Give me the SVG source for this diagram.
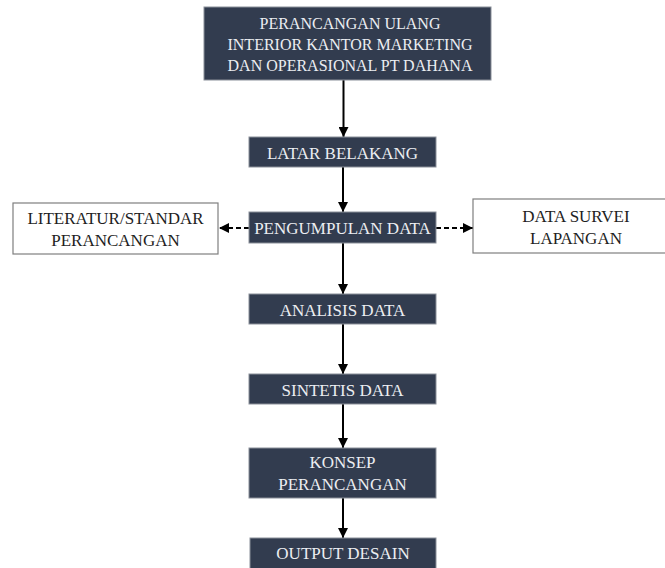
<svg xmlns="http://www.w3.org/2000/svg" width="665" height="568" viewBox="0 0 665 568">
<style>
.dark{fill:#323c4f;stroke:#8a8f99;stroke-width:1}
.light{fill:#ffffff;stroke:#7f7f7f;stroke-width:1.2}
.t{font-family:"Liberation Serif","Times New Roman",serif;font-size:17px;text-anchor:middle}
.s{font-size:16px}
.tw{fill:#eceef2}
.tb{fill:#1e1e1e}
.c{stroke:#000;stroke-width:2;fill:none}
.d{stroke-dasharray:5,3}
</style>
<defs>
<marker id="ah" viewBox="0 0 10 10" refX="10" refY="5" markerWidth="5" markerHeight="5" orient="auto" markerUnits="strokeWidth">
<path d="M0,0 L10,5 L0,10 z" fill="#000"/>
</marker>
</defs>
<rect width="665" height="568" fill="#fff"/>
<g id="connectors">
<line class="c" x1="343.5" y1="80" x2="343.5" y2="137" marker-end="url(#ah)"/>
<line class="c" x1="343" y1="167" x2="343" y2="212" marker-end="url(#ah)"/>
<line class="c" x1="343" y1="243" x2="343" y2="294" marker-end="url(#ah)"/>
<line class="c" x1="343" y1="324" x2="343" y2="374" marker-end="url(#ah)"/>
<line class="c" x1="343" y1="404" x2="343" y2="448" marker-end="url(#ah)"/>
<line class="c" x1="343" y1="498" x2="343" y2="538" marker-end="url(#ah)"/>
<line class="c d" x1="249" y1="228" x2="219" y2="228" marker-end="url(#ah)"/>
<line class="c d" x1="436" y1="228" x2="473" y2="228" marker-end="url(#ah)"/>
</g>
<g id="n1">
<rect class="dark" x="204" y="7" width="287" height="73"/>
<text class="t s tw" x="350" y="29">PERANCANGAN ULANG</text>
<text class="t s tw" x="350" y="50">INTERIOR KANTOR MARKETING</text>
<text class="t s tw" x="350" y="71">DAN OPERASIONAL PT DAHANA</text>
</g>
<g id="n2">
<rect class="dark" x="249" y="137" width="187" height="30"/>
<text class="t tw" x="342.5" y="158.5">LATAR BELAKANG</text>
</g>
<g id="n3">
<rect class="dark" x="249" y="212" width="187" height="31"/>
<text class="t tw" x="342.5" y="233.5">PENGUMPULAN DATA</text>
</g>
<g id="n4">
<rect class="light" x="13" y="203" width="205" height="51"/>
<text class="t tb" x="115.5" y="224">LITERATUR/STANDAR</text>
<text class="t tb" x="115.5" y="246">PERANCANGAN</text>
</g>
<g id="n5">
<rect class="light" x="473" y="199" width="200" height="54"/>
<text class="t tb" x="576" y="222">DATA SURVEI</text>
<text class="t tb" x="576" y="244">LAPANGAN</text>
</g>
<g id="n6">
<rect class="dark" x="249" y="294" width="187" height="30"/>
<text class="t tw" x="342.5" y="315.5">ANALISIS DATA</text>
</g>
<g id="n7">
<rect class="dark" x="249" y="374" width="187" height="30"/>
<text class="t tw" x="342.5" y="395.5">SINTETIS DATA</text>
</g>
<g id="n8">
<rect class="dark" x="249" y="448" width="187" height="50"/>
<text class="t tw" x="342.5" y="468">KONSEP</text>
<text class="t tw" x="342.5" y="490">PERANCANGAN</text>
</g>
<g id="n9">
<rect class="dark" x="250" y="538" width="186" height="32"/>
<text class="t tw" x="343" y="559">OUTPUT DESAIN</text>
</g>
</svg>
